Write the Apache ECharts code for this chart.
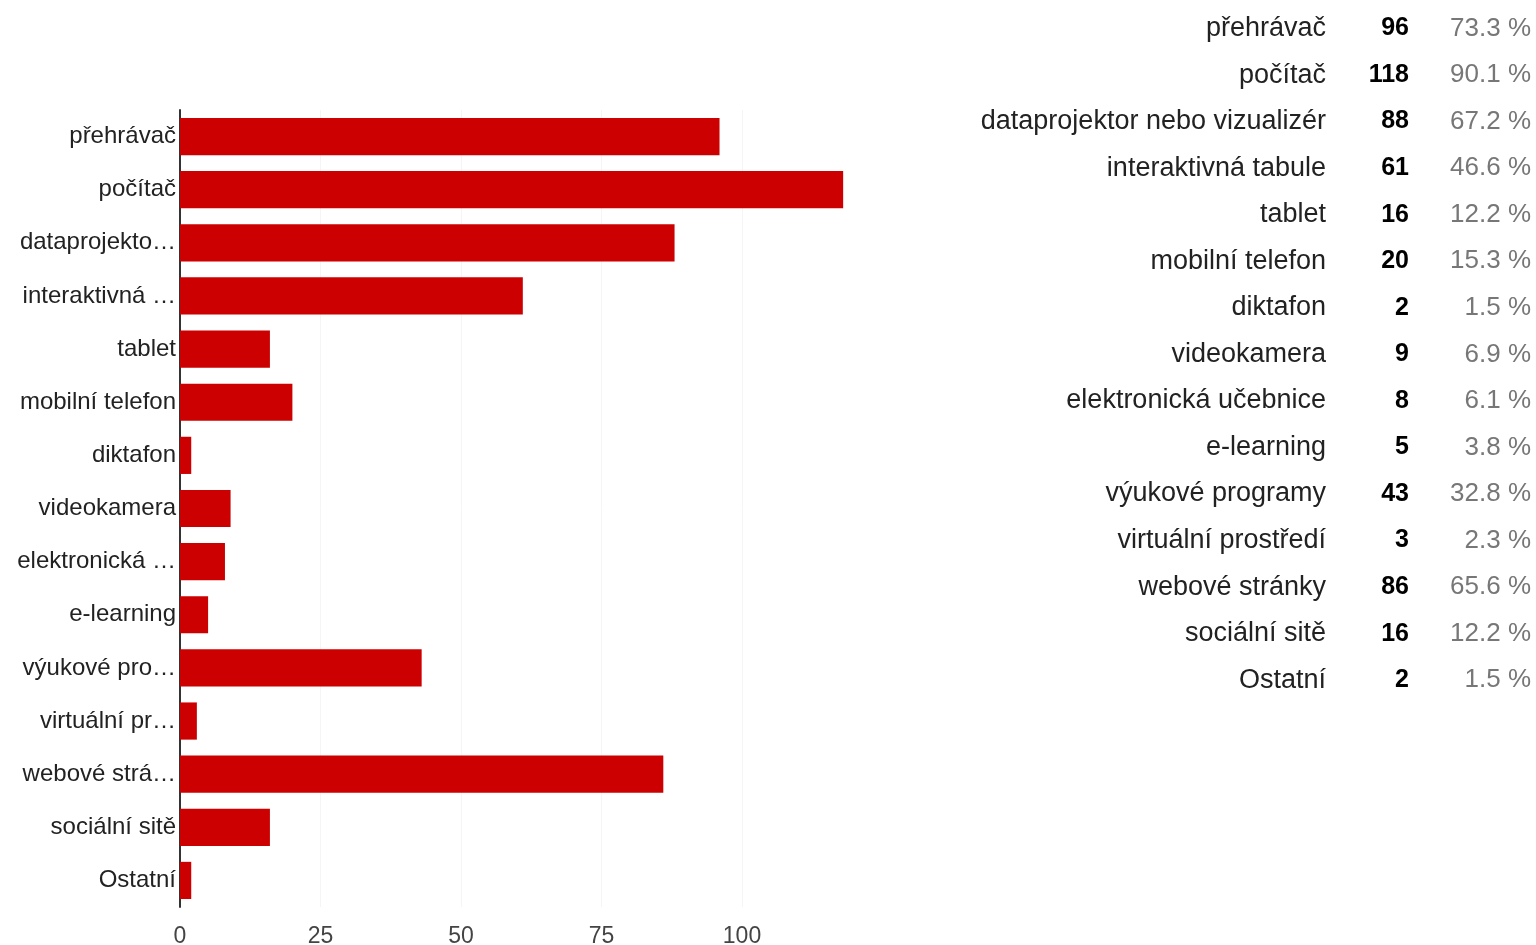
<!DOCTYPE html>
<html><head><meta charset="utf-8">
<script src="https://cdn.jsdelivr.net/npm/echarts@6/dist/echarts.min.js"></script>
<style>html,body{margin:0;padding:0;background:#fff}#c{width:1536px;height:945px}</style>
</head><body><div id="c"></div>
<script>
const categories = ["přehrávač","počítač","dataprojektor nebo vizualizér","interaktivná tabule","tablet","mobilní telefon","diktafon","videokamera","elektronická učebnice","e-learning","výukové programy","virtuální prostředí","webové stránky","sociální sitě","Ostatní"];
const counts = [96,118,88,61,16,20,2,9,8,5,43,3,86,16,2];
const percents = ["73.3 %","90.1 %","67.2 %","46.6 %","12.2 %","15.3 %","1.5 %","6.9 %","6.1 %","3.8 %","32.8 %","2.3 %","65.6 %","12.2 %","1.5 %"];
const xTicks = [0,25,50,75,100];

const FONT = '"Liberation Sans", Arial, sans-serif';
const chart = echarts.init(document.getElementById('c'));

const graphic = [];
categories.forEach((c,i)=>{
  const y = 28.5 + i*46.55;
  graphic.push({type:'text', x:1326, y:y, style:{text:c, font:'27px '+FONT, fill:'#222', textAlign:'right', textVerticalAlign:'middle'}});
  graphic.push({type:'text', x:1409, y:y, style:{text:String(counts[i]), font:'bold 25px '+FONT, fill:'#000', textAlign:'right', textVerticalAlign:'middle'}});
  graphic.push({type:'text', x:1531, y:y, style:{text:percents[i], font:'26px '+FONT, fill:'#777', textAlign:'right', textVerticalAlign:'middle'}});
});

chart.setOption({
  animation:false,
  grid:{left:180, top:110, right:653.5, bottom:38, containLabel:false, outerBoundsMode:'none'},
  xAxis:{type:'value', min:0, max:125, interval:25,
    axisLine:{show:false}, axisTick:{show:false},
    splitLine:{show:true, lineStyle:{color:['#f5f5f5','#f5f5f5','#f5f5f5','#f5f5f5','#f5f5f5','#ffffff'], width:1}},
    axisLabel:{color:'#444', fontSize:23, fontFamily:FONT, margin:18,
      formatter:v=> xTicks.includes(v) ? String(v) : ''}},
  yAxis:{type:'category', data:categories, inverse:true,
    axisLine:{show:true, lineStyle:{color:'#333', width:2}}, axisTick:{show:false},
    axisLabel:{color:'#222', fontSize:24, fontFamily:FONT, margin:4, width:165, overflow:'truncate', ellipsis:'…'}},
  series:[{type:'bar', data:counts, barCategoryGap:'30%', itemStyle:{color:'#cc0000'}}],
  graphic:graphic
});
</script></body></html>
